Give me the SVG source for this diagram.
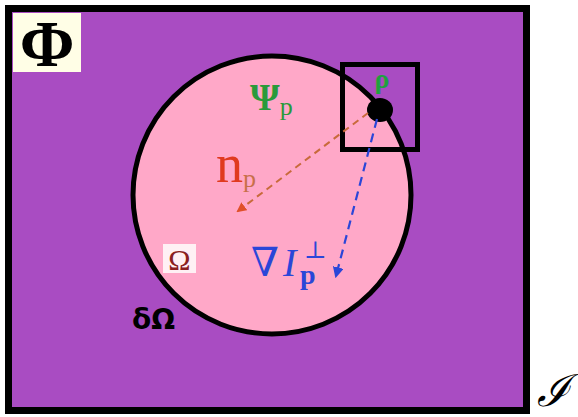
<svg xmlns="http://www.w3.org/2000/svg" width="578" height="417" viewBox="0 0 578 417">
<defs>
<style>
.serif{font-family:"Liberation Serif","DejaVu Serif",serif;}
</style>
<marker id="ar" viewBox="0 0 10 10" refX="8" refY="5" markerWidth="5" markerHeight="5" orient="auto"><path d="M0,0 L10,5 L0,10 z" fill="#e0502a"/></marker>
<marker id="ab" viewBox="0 0 10 10" refX="8" refY="5" markerWidth="5" markerHeight="5" orient="auto"><path d="M0,0 L10,5 L0,10 z" fill="#2a46d8"/></marker>
</defs>
<rect width="578" height="417" fill="#ffffff"/>
<g id="image">
<rect x="8.5" y="8.5" width="518" height="402" fill="#a94cc2" stroke="#000" stroke-width="7"/>
</g>
<g id="region">
<circle cx="272" cy="195" r="139" fill="#ffa8c8" stroke="#000" stroke-width="5"/>
</g>
<g id="patch">
<rect x="342.5" y="64.5" width="75" height="85" fill="none" stroke="#000" stroke-width="5"/>
<ellipse cx="380" cy="110" rx="13" ry="12" fill="#000"/>
<text x="382" y="88" class="serif" font-size="28" font-weight="bold" fill="#1fa040" text-anchor="middle">ρ</text>
</g>
<g id="connectors">
<line x1="368" y1="113" x2="238" y2="211" stroke="#c86a3a" stroke-width="2" stroke-dasharray="7,5" marker-end="url(#ar)"/>
<line x1="377" y1="119" x2="336" y2="276" stroke="#2a46d8" stroke-width="2.2" stroke-dasharray="9,6" marker-end="url(#ab)"/>
</g>
<g id="labels">
<rect x="13" y="13" width="68" height="59" fill="#fffee6"/>
<text x="47" y="66" class="serif" font-size="66" font-weight="bold" fill="#000" text-anchor="middle">Φ</text>
<text x="250" y="110" class="serif" font-size="38" font-weight="bold" fill="#2a9a3a">Ψ<tspan font-size="26" dy="5" font-weight="normal">p</tspan></text>
<text x="216" y="182" class="serif" font-size="54" fill="#e03a1e">n<tspan font-size="26" dy="5" fill="#c8704a">p</tspan></text>
<text x="251" y="276" class="serif" font-size="40" fill="#2a46d8">∇</text>
<text x="283" y="276" class="serif" font-size="40" font-style="italic" fill="#2a46d8">I</text>
<text x="304" y="258" class="serif" font-size="24" fill="#2a46d8">⊥</text>
<text x="300" y="284" class="serif" font-size="28" font-weight="bold" fill="#2a46d8">p</text>
<rect x="163" y="244" width="33" height="29" fill="#fff0f4"/>
<text x="179.5" y="270" class="serif" font-size="30" fill="#8a2020" text-anchor="middle">Ω</text>
<text x="132" y="329" font-family="DejaVu Sans, sans-serif" font-size="28" font-weight="bold" fill="#000">δΩ</text>
<text x="553" y="406" class="serif" font-size="44" font-style="italic" fill="#000" text-anchor="middle">ℐ</text>
</g>
</svg>
